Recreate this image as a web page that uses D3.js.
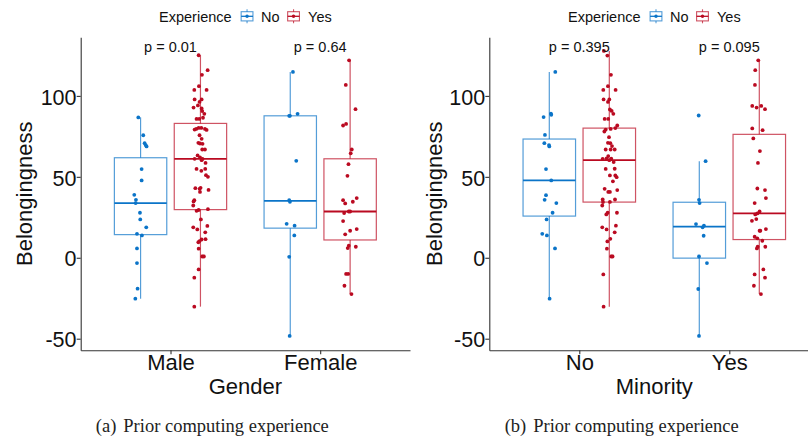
<!DOCTYPE html>
<html>
<head>
<meta charset="utf-8">
<script src="https://cdn.jsdelivr.net/npm/d3@7"></script>
<style>
  html, body { margin: 0; padding: 0; background: #fff; }
  svg { display: block; }
</style>
</head>
<body>
<script>
// ---------------- DATA ----------------
const experienceLevels = ["No", "Yes"];
const genderCategories = ["Male", "Female"];
const minorityCategories = ["No", "Yes"];
const yTickValues = [-50, 0, 50, 100];
const pValuesGender = ["p = 0.01", "p = 0.64"];
const pValuesMinority = ["p = 0.395", "p = 0.095"];

// each point: [Belongingness value, horizontal jitter in category units]
const maleNo = [[86.7,-0.015],[75.7,0.018],[70.8,0.027],[69.6,0.034],[68.8,0.040],[54.8,0.007],[47.8,0.007],[38.9,-0.042],[35.8,-0.031],[33.8,-0.033],[27.8,-0.004],[23.7,-0.002],[18.8,0.038],[14.8,-0.024],[13.8,0.009],[5.8,-0.024],[-3.3,-0.024],[-19.1,-0.020],[-25.3,-0.035]];
const maleYes = [[125.1,-0.012],[115.9,0.048],[113,0.010],[106,-0.010],[103.7,-0.041],[103.7,0.041],[97.8,-0.039],[97.8,0.008],[96.3,-0.006],[94.1,-0.017],[92.8,-0.046],[92.2,0.008],[90.6,0.012],[88.9,0.026],[86.5,0.017],[85.8,-0.026],[85.8,-0.008],[79.2,-0.039],[79.6,-0.028],[80.2,-0.012],[80.2,0.006],[79.6,0.030],[79,0.041],[75.7,-0.006],[73.5,0.008],[71,-0.014],[70.6,-0.003],[70.4,0.014],[66.9,0.012],[66.9,0.030],[63.2,-0.019],[61.1,-0.039],[62,-0.003],[61.1,0.014],[60.3,0.008],[58.6,0.034],[54.9,-0.026],[54.9,0.032],[53.7,0.006],[51,0.037],[50,0.050],[43,-0.034],[42.6,-0.006],[43.2,0.001],[40.7,-0.003],[41.9,0.054],[35.6,-0.041],[34.8,-0.046],[32.3,-0.048],[29,-0.026],[29.5,-0.012],[30,0.050],[23.7,0.003],[18.8,-0.048],[17.5,-0.021],[19.7,0.046],[15.7,0.032],[11.3,0.008],[10.3,-0.006],[9.6,-0.014],[11.5,0.034],[5.6,-0.012],[0.8,0.012],[0.8,0.023],[-7.2,-0.012],[-12.3,-0.041],[-30.2,-0.041]];
const femaleNo = [[114.8,0.018],[87.7,-0.007],[87.7,-0.002],[88.9,0.049],[59.9,0.040],[35.6,-0.007],[34.6,-0.002],[21,-0.024],[19.8,0.029],[13.8,0.027],[0.6,-0.007],[-48.3,-0.004]];
const femaleYes = [[122,-0.007],[106.8,-0.029],[91.8,0.036],[81.7,-0.047],[82.7,-0.027],[64.5,0.004],[66.9,0.011],[57.8,-0.011],[50.6,-0.018],[35.6,-0.047],[33.6,-0.033],[36.9,0.044],[34.6,0.018],[27.6,-0.040],[28.6,-0.009],[28.6,0],[22.7,-0.047],[16.7,0],[17.7,0.044],[14.5,-0.033],[6,-0.016],[7.5,-0.009],[6.8,0.038],[-10,-0.027],[-10,-0.013],[-17.3,-0.038],[-22.4,0.009]];
const minorityNoExpNo = [[114.8,0.040],[89.1,0.011],[88.3,0.013],[86.9,-0.038],[75.9,-0.029],[70.8,-0.033],[69.6,-0.002],[68.8,0],[54.8,-0.022],[47.8,0.013],[38.7,-0.022],[35.8,-0.031],[33.8,0.047],[27.8,0.022],[23.7,-0.018],[14.8,-0.047],[13.8,-0.016],[5.8,0.038],[-25.3,0.002]];
const minorityNoExpYes = [[127.8,-0.036],[124.9,-0.013],[113,0.011],[106,-0.009],[103.7,-0.040],[103.7,0.042],[97.8,-0.038],[97.8,0],[96.3,-0.009],[91.6,0.004],[90.7,0.016],[88.9,0.027],[85.8,-0.031],[85.8,-0.007],[81.7,0.053],[80.1,0.040],[79.2,-0.024],[78,-0.033],[79.6,0.009],[74.5,-0.002],[71,-0.009],[70.8,0.007],[69,0.018],[66.9,-0.024],[66.9,0.009],[66.9,0.036],[62.8,-0.007],[61.1,-0.044],[61.4,-0.018],[61.2,0.013],[60.3,0],[59.1,0.029],[54.9,-0.024],[55,0.036],[50.9,0.004],[50.9,0.040],[49.8,0.049],[47.2,0.024],[42.6,-0.031],[40.7,-0.007],[40.7,0.004],[41.8,0.053],[36,-0.044],[36,0.038],[34.4,-0.042],[34.5,0.004],[32.3,-0.047],[27.8,-0.011],[26.8,-0.020],[27.8,0.051],[18.8,-0.047],[17.5,-0.018],[19.8,0.044],[15.7,0.036],[11.7,0.007],[10.1,-0.013],[5.6,-0.016],[0.8,0.013],[0.8,0.022],[-10.3,-0.040],[-30.2,-0.038]];
const minorityYesExpNo = [[87.9,-0.004],[59.7,0.042],[35.8,-0.002],[33.8,0.002],[20.8,-0.022],[19.8,0.031],[18.8,0.022],[13.6,0.029],[0.8,-0.002],[-3.3,0.051],[-19.3,-0.007],[-48.3,-0.002]];
const minorityYesExpYes = [[122,-0.007],[115.9,-0.027],[106.8,-0.029],[93.8,-0.047],[92.8,-0.018],[93.8,0.013],[91.8,0.038],[79.9,-0.047],[78.8,0.022],[73.7,-0.040],[65.9,0.004],[58.6,-0.009],[42.8,-0.013],[41.8,0.038],[36.9,0.044],[33.8,-0.031],[28.6,0.002],[27.4,-0.013],[26.8,-0.027],[22.8,-0.049],[23.9,-0.020],[16.7,0.002],[16.7,0.007],[17.7,0.044],[13,-0.031],[12,-0.013],[10.5,0.020],[6.8,-0.011],[5.8,-0.016],[6.8,0.040],[-7.2,0.027],[-10.3,-0.031],[-12.3,0.038],[-17.3,-0.036],[-22.4,0.011]];

// ---------------- STYLE ----------------
const colors = ["#0B74C8", "#BA0A21"];
const W = 808, H = 440;
const sans = "'Liberation Sans', Arial, Helvetica, sans-serif";
const serif = "'Liberation Serif', 'Times New Roman', serif";

const svg = d3.select("body").append("svg").attr("width", W).attr("height", H);

const y = d3.scaleLinear().domain([-57.1, 136.2]).range([350.2, 37.3]);

function boxStats(arr) {
  const v = arr.map(d => d[0]).sort(d3.ascending);
  const q1 = d3.quantile(v, 0.25), med = d3.quantile(v, 0.5), q3 = d3.quantile(v, 0.75);
  const iqr = q3 - q1;
  const lo = d3.min(v.filter(d => d >= q1 - 1.5 * iqr));
  const hi = d3.max(v.filter(d => d <= q3 + 1.5 * iqr));
  return {q1, med, q3, lo, hi};
}

function drawPanel(cfg) {
  const g = svg.append("g");
  const x = d3.scaleLinear().domain([0.4, 2.6]).range([cfg.x0, cfg.x1]);
  const dodge = [-0.2, 0.2];
  const halfW = 0.175;

  // boxes
  cfg.groups.forEach((pair, ci) => {
    pair.forEach((data, ei) => {
      const s = boxStats(data);
      const cx = ci + 1 + dodge[ei];
      const col = colors[ei];
      const bg = g.append("g");
      bg.append("line").attr("x1", x(cx)).attr("x2", x(cx)).attr("y1", y(s.q3)).attr("y2", y(s.hi))
        .attr("stroke", col).attr("stroke-opacity", 0.7).attr("stroke-width", 1.2);
      bg.append("line").attr("x1", x(cx)).attr("x2", x(cx)).attr("y1", y(s.q1)).attr("y2", y(s.lo))
        .attr("stroke", col).attr("stroke-opacity", 0.7).attr("stroke-width", 1.2);
      bg.append("rect").attr("x", x(cx - halfW)).attr("y", y(s.q3))
        .attr("width", x(cx + halfW) - x(cx - halfW)).attr("height", y(s.q1) - y(s.q3))
        .attr("fill", "none").attr("stroke", col).attr("stroke-opacity", 0.7).attr("stroke-width", 1.2);
      bg.append("line").attr("x1", x(cx - halfW)).attr("x2", x(cx + halfW)).attr("y1", y(s.med)).attr("y2", y(s.med))
        .attr("stroke", col).attr("stroke-width", 1.8);
    });
  });
  // points
  cfg.groups.forEach((pair, ci) => {
    pair.forEach((data, ei) => {
      g.append("g").selectAll("circle").data(data).join("circle")
        .attr("cx", d => x(ci + 1 + dodge[ei] + d[1]))
        .attr("cy", d => y(d[0]))
        .attr("r", 1.9)
        .attr("fill", colors[ei]);
    });
  });

  // axes
  const ya = g.append("g").attr("transform", `translate(${cfg.x0},0)`)
    .call(d3.axisLeft(y).tickValues(yTickValues).tickFormat(d => String(d)).tickSize(4).tickSizeOuter(0).tickPadding(0));
  ya.select(".domain").attr("stroke", "#333").attr("stroke-width", 1.1);
  ya.selectAll(".tick line").attr("stroke", "#333").attr("stroke-width", 1.1);
  ya.selectAll(".tick text").attr("x", -4.2).attr("dy", "0.38em")
    .attr("font-family", sans).attr("font-size", 21.5).attr("fill", "#111");

  const xa = g.append("g").attr("transform", `translate(0,${y.range()[0]})`)
    .call(d3.axisBottom(x).tickValues([1, 2]).tickFormat((d, i) => cfg.cats[i]).tickSize(4).tickSizeOuter(0));
  xa.select(".domain").attr("stroke", "#333").attr("stroke-width", 1.1);
  xa.selectAll(".tick line").attr("stroke", "#333").attr("stroke-width", 1.1);
  xa.selectAll(".tick text").attr("y", 19.8).attr("dy", 0)
    .attr("font-family", sans).attr("font-size", 22).attr("fill", "#111");

  // axis titles
  g.append("text").attr("x", (cfg.x0 + cfg.x1) / 2).attr("y", 394.3).attr("text-anchor", "middle")
    .attr("font-family", sans).attr("font-size", 22).attr("fill", "#111").text(cfg.xTitle);
  g.append("text").attr("transform", `translate(${cfg.yTitleX},${(y.range()[0] + y.range()[1]) / 2}) rotate(-90)`)
    .attr("text-anchor", "middle").attr("font-family", sans).attr("font-size", 22).attr("fill", "#111")
    .text("Belongingness");

  // p values
  cfg.pvals.forEach((p, ci) => {
    g.append("text").attr("x", x(ci + 1)).attr("y", 51.5).attr("text-anchor", "middle")
      .attr("font-family", sans).attr("font-size", 14.5).attr("fill", "#111").text(p);
  });

  // legend
  const lx = (cfg.x0 + cfg.x1) / 2 - 86.3;
  const lg = g.append("g").attr("font-family", sans).attr("font-size", 14.5).attr("fill", "#111");
  lg.append("text").attr("x", lx).attr("y", 21.5).text("Experience");
  const keyCenters = [lx + 88, lx + 134.5];
  const textStarts = [lx + 102, lx + 149];
  experienceLevels.forEach((lab, i) => {
    const kc = keyCenters[i], ky = 16.3, col = colors[i];
    const k = lg.append("g");
    k.append("line").attr("x1", kc).attr("x2", kc).attr("y1", ky - 7).attr("y2", ky - 4.6)
      .attr("stroke", col).attr("stroke-opacity", 0.7).attr("stroke-width", 1.1);
    k.append("line").attr("x1", kc).attr("x2", kc).attr("y1", ky + 4.6).attr("y2", ky + 7)
      .attr("stroke", col).attr("stroke-opacity", 0.7).attr("stroke-width", 1.1);
    k.append("rect").attr("x", kc - 5.9).attr("y", ky - 4.6).attr("width", 11.8).attr("height", 9.2)
      .attr("fill", "none").attr("stroke", col).attr("stroke-opacity", 0.7).attr("stroke-width", 1.1);
    k.append("line").attr("x1", kc - 5.9).attr("x2", kc + 5.9).attr("y1", ky).attr("y2", ky)
      .attr("stroke", col).attr("stroke-width", 1.3);
    k.append("circle").attr("cx", kc).attr("cy", ky).attr("r", 1.7).attr("fill", col);
    lg.append("text").attr("x", textStarts[i]).attr("y", 21.5).text(lab);
  });

  // caption: label and text with a wider gap, as in a LaTeX subcaption
  const cap = svg.append("text").attr("x", cfg.capX).attr("y", 432).attr("text-anchor", "middle")
    .attr("font-family", serif).attr("font-size", 18.5).attr("fill", "#222");
  cap.append("tspan").text(cfg.captionLabel);
  cap.append("tspan").attr("dx", 7).text(cfg.caption);
}

drawPanel({
  x0: 80.7, x1: 410, cats: genderCategories, xTitle: "Gender", yTitleX: 32.3,
  groups: [[maleNo, maleYes], [femaleNo, femaleYes]], pvals: pValuesGender,
  captionLabel: "(a)", caption: "Prior computing experience", capX: 212.3
});
drawPanel({
  x0: 489.3, x1: 819.3, cats: minorityCategories, xTitle: "Minority", yTitleX: 441.5,
  groups: [[minorityNoExpNo, minorityNoExpYes], [minorityYesExpNo, minorityYesExpYes]], pvals: pValuesMinority,
  captionLabel: "(b)", caption: "Prior computing experience", capX: 621.7
});
</script>
</body>
</html>
